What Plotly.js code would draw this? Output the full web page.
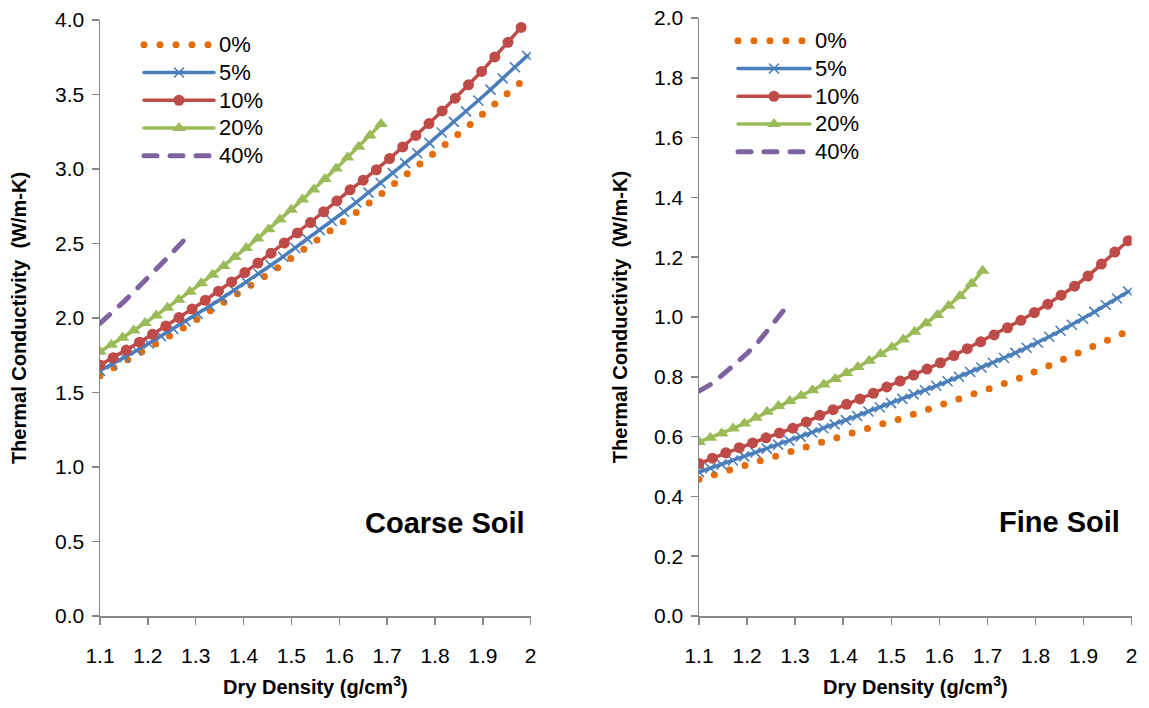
<!DOCTYPE html>
<html>
<head>
<meta charset="utf-8">
<script src="https://cdn.plot.ly/plotly-3.0.1.min.js"></script>
<style>
  html, body { margin: 0; padding: 0; background: #fff; }
  #chart { width: 1149px; height: 708px; }
  .js-line { stroke-linecap: round; }
</style>
</head>
<body>
<div id="chart"></div>
<script>
// Moisture-content series labels
const seriesNames = ['0%', '5%', '10%', '20%', '40%'];

// Coarse soil: dry density (g/cm3) and thermal conductivity (W/m-K)
const coarseX0 = [1.1, 1.1285, 1.157, 1.1855, 1.214, 1.2425, 1.271, 1.2995, 1.328, 1.3565, 1.385, 1.4135, 1.442, 1.4705, 1.499, 1.5275, 1.556, 1.5845, 1.613, 1.6415, 1.67, 1.6985, 1.727, 1.7555, 1.784, 1.8125, 1.841, 1.8695, 1.898, 1.9265, 1.955, 1.9835];
const coarseY0 = [1.613, 1.663, 1.714, 1.766, 1.819, 1.873, 1.927, 1.983, 2.039, 2.097, 2.155, 2.214, 2.275, 2.336, 2.398, 2.461, 2.525, 2.589, 2.655, 2.722, 2.789, 2.858, 2.927, 2.997, 3.069, 3.141, 3.214, 3.288, 3.363, 3.438, 3.515, 3.593];
const coarseX5 = [1.1, 1.1255, 1.151, 1.1765, 1.202, 1.2275, 1.253, 1.2785, 1.304, 1.3295, 1.355, 1.3805, 1.406, 1.4315, 1.457, 1.4825, 1.508, 1.5335, 1.559, 1.5845, 1.61, 1.6355, 1.661, 1.6865, 1.712, 1.7375, 1.763, 1.7885, 1.814, 1.8395, 1.865, 1.8905, 1.916, 1.9415, 1.967, 1.9925];
const coarseY5 = [1.646, 1.690, 1.736, 1.782, 1.829, 1.878, 1.927, 1.977, 2.028, 2.080, 2.133, 2.187, 2.241, 2.297, 2.354, 2.411, 2.470, 2.529, 2.590, 2.651, 2.713, 2.776, 2.841, 2.906, 2.972, 3.039, 3.106, 3.175, 3.245, 3.316, 3.387, 3.460, 3.533, 3.608, 3.683, 3.759];
const coarseX10 = [1.1, 1.1275, 1.155, 1.1825, 1.21, 1.2375, 1.265, 1.2925, 1.32, 1.3475, 1.375, 1.4025, 1.43, 1.4575, 1.485, 1.5125, 1.54, 1.5675, 1.595, 1.6225, 1.65, 1.6775, 1.705, 1.7325, 1.76, 1.7875, 1.815, 1.8425, 1.87, 1.8975, 1.925, 1.9525, 1.98];
const coarseY10 = [1.685, 1.734, 1.785, 1.838, 1.891, 1.946, 2.003, 2.060, 2.119, 2.180, 2.242, 2.305, 2.369, 2.435, 2.503, 2.571, 2.641, 2.713, 2.786, 2.860, 2.925, 2.995, 3.070, 3.148, 3.225, 3.305, 3.390, 3.475, 3.565, 3.655, 3.752, 3.850, 3.950];
const coarseX20 = [1.1, 1.1235, 1.147, 1.1705, 1.194, 1.2175, 1.241, 1.2645, 1.288, 1.3115, 1.335, 1.3585, 1.382, 1.4055, 1.429, 1.4525, 1.476, 1.4995, 1.523, 1.5465, 1.57, 1.5935, 1.617, 1.6405, 1.664, 1.6875];
const coarseY20 = [1.774, 1.820, 1.867, 1.916, 1.966, 2.017, 2.069, 2.123, 2.177, 2.233, 2.291, 2.349, 2.409, 2.470, 2.533, 2.596, 2.661, 2.727, 2.795, 2.863, 2.933, 3.004, 3.077, 3.150, 3.225, 3.302];
const coarseX40 = [1.1, 1.125, 1.15, 1.175, 1.2, 1.225, 1.25, 1.275, 1.29];
const coarseY40 = [1.964, 2.035, 2.11, 2.19, 2.268, 2.35, 2.435, 2.52, 2.57];

// Fine soil: dry density (g/cm3) and thermal conductivity (W/m-K)
const fineX0 = [1.1, 1.1321, 1.1642, 1.1963, 1.2284, 1.2605, 1.2926, 1.3247, 1.3568, 1.3889, 1.421, 1.4531, 1.4852, 1.5173, 1.5494, 1.5815, 1.6136, 1.6457, 1.6778, 1.7099, 1.742, 1.7741, 1.8062, 1.8383, 1.8704, 1.9025, 1.9346, 1.9667, 1.9988];
const fineY0 = [0.457, 0.473, 0.487, 0.501, 0.517, 0.533, 0.550, 0.564, 0.581, 0.597, 0.612, 0.629, 0.644, 0.659, 0.676, 0.691, 0.707, 0.724, 0.742, 0.762, 0.781, 0.800, 0.822, 0.842, 0.864, 0.887, 0.909, 0.933, 0.957];
const fineX5 = [1.1, 1.1235, 1.147, 1.1705, 1.194, 1.2175, 1.241, 1.2645, 1.288, 1.3115, 1.335, 1.3585, 1.382, 1.4055, 1.429, 1.4525, 1.476, 1.4995, 1.523, 1.5465, 1.57, 1.5935, 1.617, 1.6405, 1.664, 1.6875, 1.711, 1.7345, 1.758, 1.7815, 1.805, 1.8285, 1.852, 1.8755, 1.899, 1.9225, 1.946, 1.9695, 1.993];
const fineY5 = [0.481, 0.494, 0.507, 0.520, 0.534, 0.547, 0.560, 0.573, 0.586, 0.600, 0.614, 0.628, 0.641, 0.655, 0.669, 0.684, 0.698, 0.712, 0.726, 0.741, 0.755, 0.770, 0.785, 0.800, 0.816, 0.831, 0.847, 0.863, 0.880, 0.897, 0.914, 0.934, 0.954, 0.974, 0.994, 1.017, 1.040, 1.062, 1.085];
const fineX10 = [1.1, 1.1279, 1.1558, 1.1837, 1.2116, 1.2395, 1.2674, 1.2953, 1.3232, 1.3511, 1.379, 1.4069, 1.4348, 1.4627, 1.4906, 1.5185, 1.5464, 1.5743, 1.6022, 1.6301, 1.658, 1.6859, 1.7138, 1.7417, 1.7696, 1.7975, 1.8254, 1.8533, 1.8812, 1.9091, 1.937, 1.9649, 1.9928];
const fineY10 = [0.510, 0.528, 0.546, 0.563, 0.579, 0.596, 0.612, 0.628, 0.649, 0.671, 0.690, 0.708, 0.726, 0.745, 0.766, 0.786, 0.806, 0.826, 0.847, 0.871, 0.894, 0.917, 0.940, 0.964, 0.989, 1.015, 1.043, 1.073, 1.103, 1.137, 1.177, 1.217, 1.255];
const fineX20 = [1.1, 1.1236, 1.1472, 1.1708, 1.1944, 1.218, 1.2416, 1.2652, 1.2888, 1.3124, 1.336, 1.3596, 1.3832, 1.4068, 1.4304, 1.454, 1.4776, 1.5012, 1.5248, 1.5484, 1.572, 1.5956, 1.6192, 1.6428, 1.6664, 1.69];
const fineY20 = [0.582, 0.596, 0.610, 0.627, 0.644, 0.663, 0.683, 0.702, 0.719, 0.737, 0.755, 0.774, 0.793, 0.813, 0.833, 0.854, 0.876, 0.899, 0.925, 0.951, 0.979, 1.007, 1.038, 1.070, 1.111, 1.155];
const fineX40 = [1.1, 1.125, 1.15, 1.175, 1.2, 1.225, 1.25, 1.275, 1.29];
const fineY40 = [0.752, 0.775, 0.808, 0.842, 0.878, 0.92, 0.968, 1.02, 1.055];

// Shared x-axis ticks
const xTickVals = [1.1, 1.2, 1.3, 1.4, 1.5, 1.6, 1.7, 1.8, 1.9, 2.0];
const xTickText = ['1.1', '1.2', '1.3', '1.4', '1.5', '1.6', '1.7', '1.8', '1.9', '2'];

// Per-series drawing styles
const styles = [
  { mode: 'lines', line: { color: '#E46C0A', width: 7, dash: '0px,16px' } },
  { mode: 'lines+markers', line: { color: '#4A7EBB', width: 3.5 },
    marker: { symbol: 'x-thin', size: 10, line: { color: '#4A7EBB', width: 1.6 } } },
  { mode: 'lines+markers', line: { color: '#BE4B48', width: 3.5 },
    marker: { symbol: 'circle', size: 11, color: '#BE4B48' } },
  { mode: 'lines+markers', line: { color: '#9BBB59', width: 3.5 },
    marker: { symbol: 'triangle-up', size: 12, color: '#9BBB59' } },
  { mode: 'lines', line: { color: '#7F63A1', width: 5, dash: '13px,13px' } }
];

const FONT = 'Liberation Sans, Arial, sans-serif';
const axisColor = '#868686';

// Legend entries use a slightly larger text than the row pitch implies
function legendLabel(name) {
  return '<span style="font-size:22px">' + name + '</span>';
}

function makeTraces(xs, ys, xaxis, yaxis, legend) {
  return xs.map((x, i) => Object.assign({
    type: 'scatter', x: x, y: ys[i], name: legendLabel(seriesNames[i]),
    xaxis: xaxis, yaxis: yaxis, legend: legend, hoverinfo: 'skip'
  }, JSON.parse(JSON.stringify(styles[i]))));
}

const traces = [].concat(
  makeTraces([coarseX0, coarseX5, coarseX10, coarseX20, coarseX40],
             [coarseY0, coarseY5, coarseY10, coarseY20, coarseY40], 'x', 'y', 'legend'),
  makeTraces([fineX0, fineX5, fineX10, fineX20, fineX40],
             [fineY0, fineY5, fineY10, fineY20, fineY40], 'x2', 'y2', 'legend2')
);

function xAxis(domain, anchor) {
  return {
    domain: domain, anchor: anchor, range: [1.1, 2.0],
    tickmode: 'array', tickvals: xTickVals, ticktext: xTickText,
    showline: true, linecolor: axisColor, linewidth: 1.5,
    ticks: 'outside', ticklen: 7, tickwidth: 1.5, tickcolor: axisColor,
    showgrid: false, zeroline: false, ticklabelstandoff: 13,
    tickfont: { family: FONT, size: 21, color: '#000' },
    title: { text: '<b>Dry Density (g/cm<sup>3</sup>)</b>', standoff: 14,
             font: { family: FONT, size: 20, color: '#000' } }
  };
}

function yAxis(domain, anchor, range, dtick, standoff) {
  return {
    domain: domain, anchor: anchor, range: range, dtick: dtick, tick0: 0,
    tickformat: '.1f',
    showline: true, linecolor: axisColor, linewidth: 1.5,
    ticks: 'outside', ticklen: 7, tickwidth: 1.5, tickcolor: axisColor,
    showgrid: false, zeroline: false, ticklabelstandoff: 3,
    tickfont: { family: FONT, size: 21, color: '#000' },
    title: { text: '<b>Thermal Conductivity\u00a0 (W/m-K)</b>', standoff: standoff,
             font: { family: FONT, size: 20, color: '#000' } }
  };
}

function legendBox(x, y, itemwidth) {
  return {
    x: x, y: y, xanchor: 'left', yanchor: 'top',
    bgcolor: 'rgba(0,0,0,0)', borderwidth: 0,
    itemwidth: itemwidth, tracegroupgap: 0, itemclick: false, itemdoubleclick: false,
    font: { family: FONT, size: 19, color: '#000' }
  };
}

const layout = {
  width: 1149, height: 708,
  margin: { l: 0, r: 0, t: 0, b: 0 },
  paper_bgcolor: '#fff', plot_bgcolor: '#fff',
  showlegend: true,
  xaxis: xAxis([100 / 1149, 530.7 / 1149], 'y'),
  yaxis: yAxis([92 / 708, 688 / 708], 'x', [0, 4], 0.5, 23),
  xaxis2: xAxis([699 / 1149, 1131.7 / 1149], 'y2'),
  yaxis2: yAxis([92 / 708, 690 / 708], 'x2', [0, 2], 0.2, 21),
  legend: legendBox(139 / 1149, 1 - 26 / 708, 70),
  legend2: legendBox(733 / 1149, 1 - 22 / 708, 72),
  annotations: [
    { text: '<b>Coarse Soil</b>', xref: 'paper', yref: 'paper',
      x: 527 / 1149, y: 1 - 523 / 708, xanchor: 'right', yanchor: 'middle',
      showarrow: false, font: { family: FONT, size: 29, color: '#000' } },
    { text: '<b>Fine Soil</b>', xref: 'paper', yref: 'paper',
      x: 1122 / 1149, y: 1 - 522 / 708, xanchor: 'right', yanchor: 'middle',
      showarrow: false, font: { family: FONT, size: 29, color: '#000' } }
  ]
};

Plotly.newPlot('chart', traces, layout, { displayModeBar: false, staticPlot: true });
</script>
</body>
</html>
